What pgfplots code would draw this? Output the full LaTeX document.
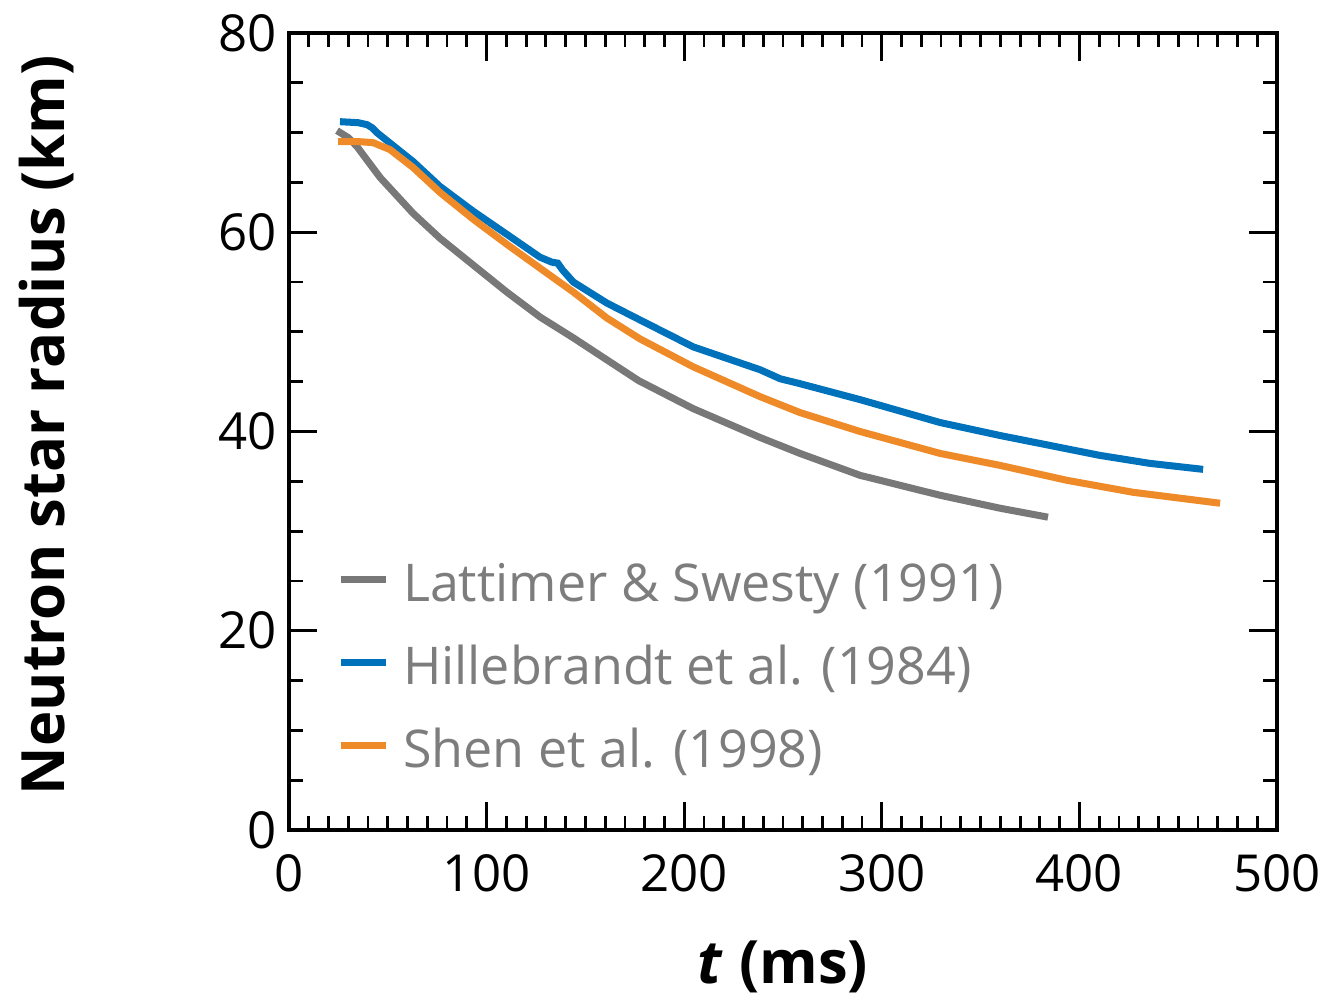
\documentclass[border=0pt]{standalone}
\usepackage{fontspec}
\setmainfont{Open Sans}
\usepackage{pgfplots}
\pgfplotsset{compat=1.18}
\definecolor{lsgray}{RGB}{120,120,120}
\definecolor{hblue}{RGB}{0,114,188}
\definecolor{shorange}{RGB}{238,138,40}
\definecolor{legtext}{RGB}{125,125,125}

\pgfplotstableread{
t R
24.3 70.2
30.0 69.5
34.4 68.6
46.1 65.5
62.8 61.9
76.4 59.4
93.3 56.7
110.2 54.0
127.0 51.5
143.9 49.4
160.8 47.2
177.0 45.1
204.5 42.3
238.4 39.4
258.6 37.8
289.0 35.6
329.5 33.6
359.8 32.3
384.1 31.4
}\lattimer

\pgfplotstableread{
t R
25.8 71.1
35.0 71.0
39.5 70.8
42.0 70.5
44.5 70.0
62.8 67.1
76.4 64.6
93.3 62.1
110.2 59.8
127.0 57.5
133.0 57.0
136.0 56.9
138.5 56.2
143.9 55.0
160.8 52.9
177.6 51.2
204.5 48.5
238.4 46.2
248.5 45.3
258.6 44.8
289.0 43.2
329.5 40.9
359.8 39.6
385.1 38.6
410.4 37.6
435.7 36.8
462.6 36.2
}\hillebrandt

\pgfplotstableread{
t R
24.8 69.1
35.0 69.1
42.5 69.0
51.1 68.3
62.8 66.5
76.4 64.0
93.3 61.3
110.2 58.8
127.0 56.4
143.9 54.0
160.8 51.4
177.6 49.3
204.5 46.5
238.4 43.5
258.6 41.9
289.0 40.0
329.5 37.8
359.8 36.6
393.7 35.1
427.1 33.9
471.2 32.8
}\shen

\begin{document}
\begin{tikzpicture}
\useasboundingbox (-2.89,-1.70) rectangle (10.36,8.30);
\begin{axis}[
  scale only axis, width=9.88cm, height=7.97cm,
  xmin=0, xmax=500, ymin=0, ymax=80,
  xtick={0,100,...,500}, ytick={0,20,...,80},
  minor x tick num=9, minor y tick num=3,
  tick align=inside, tick pos=both,
  major tick length=0.28cm, minor tick length=0.14cm,
  axis line style={line width=1.1pt},
  every tick/.style={black, line width=0.8pt},
  /pgf/number format/assume math mode=true,
  tick label style={font=\fontsize{14.5}{16}\selectfont},
  xticklabel style={yshift=-0.12cm},
  xlabel={\textbf{\textit{t} (ms)}},
  ylabel={\textbf{Neutron star radius (km)}},
  every axis x label/.style={at={(axis description cs:0.5,-0.172)}, anchor=center, font=\fontsize{17}{20}\selectfont},
  every axis y label/.style={at={(axis description cs:-0.245,0.508)}, anchor=center, rotate=90, font=\fontsize{17}{20}\selectfont},
  legend style={at={(axis cs:24.3,27.96)}, anchor=north west, draw=none, fill=none,
    inner sep=0pt, outer sep=0pt, text=legtext,
    font=\fontsize{14.8}{17}\selectfont,
    nodes={inner sep=0pt, text height=0.5cm, text depth=0.33cm},
    cells={anchor=west}, row sep=0pt,
    /tikz/every odd column/.append style={column sep=0.14cm}},
  legend image code/.code={\draw[#1, line width=2pt] (0cm,0.13cm) -- (0.45cm,0.13cm);},
]
\addplot[lsgray, line width=2pt] table {\lattimer};
\addlegendentry{Lattimer \& Swesty (1991)}
\addplot[hblue, line width=2pt] table {\hillebrandt};
\addlegendentry{Hillebrandt et al. (1984)}
\addplot[shorange, line width=2pt] table {\shen};
\addlegendentry{Shen et al. (1998)}
\end{axis}
\end{tikzpicture}
\end{document}
